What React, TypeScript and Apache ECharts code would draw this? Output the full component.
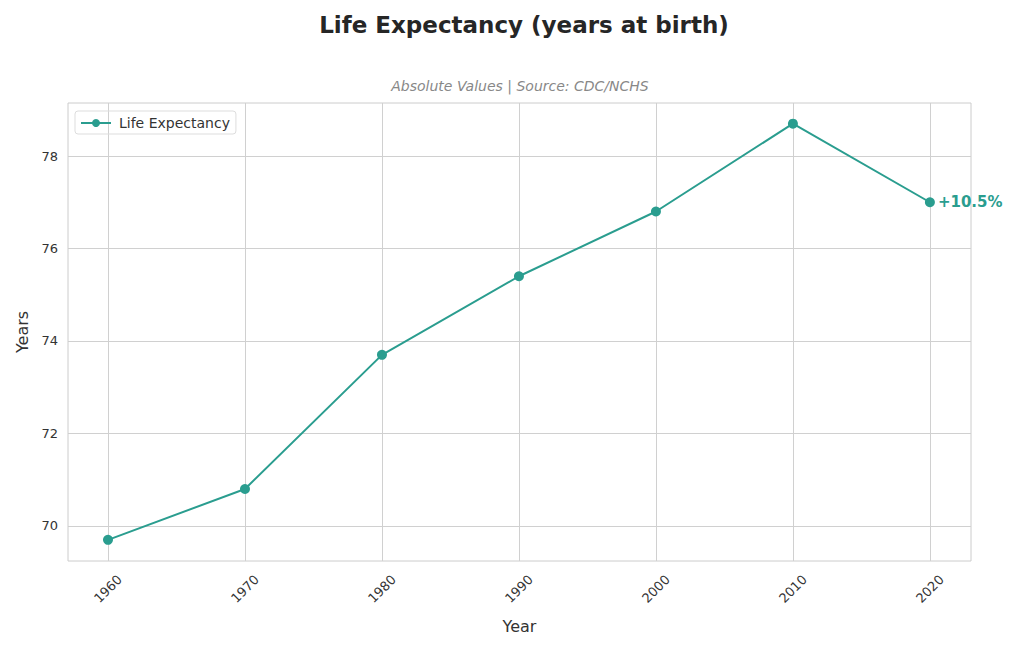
import React, { useEffect, useRef } from "react";
import * as echarts from "echarts";

const years = [1960, 1970, 1980, 1990, 2000, 2010, 2020];
const lifeExpectancy = [69.7, 70.8, 73.7, 75.4, 76.8, 78.7, 77.0];
const yTicks = [70, 72, 74, 76, 78];
const changeLabel = "+10.5%";

const TEAL = "#2a9d8f";
const FONT = "DejaVu Sans";

export default function App() {
  const ref = useRef<HTMLDivElement>(null);
  useEffect(() => {
    if (!ref.current) return;
    const chart = echarts.init(ref.current, null, { renderer: "svg" });
    const data = years.map((y, i) => [y, lifeExpectancy[i]]);
    chart.setOption({
      animation: false,
      backgroundColor: "#fff",
      textStyle: { fontFamily: FONT },
      title: [
        {
          text: "Life Expectancy (years at birth)",
          left: 519,
          textAlign: "center",
          top: 8,
          textStyle: { fontSize: 23, fontWeight: "bold", color: "#262626", fontFamily: FONT },
        },
        {
          text: "Absolute Values | Source: CDC/NCHS",
          left: 515,
          textAlign: "center",
          top: 74,
          textStyle: { fontSize: 14, fontStyle: "italic", fontWeight: "normal", color: "#888", fontFamily: FONT },
        },
      ],
      legend: {
        left: 75,
        top: 111,
        orient: "vertical",
        itemWidth: 30,
        itemHeight: 10,
        itemGap: 10,
        padding: [5, 6, 4, 5],
        borderColor: "#ddd",
        borderWidth: 1,
        borderRadius: 3,
        textStyle: { fontSize: 14, color: "#333", fontFamily: FONT, padding: [0, 0, 0, 3] },
        data: ["Life Expectancy"],
      },
      grid: {
        left: 68,
        right: 53,
        top: 103,
        bottom: 105,
        show: true,
        borderColor: "#cccccc",
        borderWidth: 1,
        containLabel: false,
      },
      xAxis: {
        type: "value",
        min: 1957.08,
        max: 2023.0,
        name: "Year",
        nameLocation: "middle",
        nameGap: 57,
        nameTextStyle: { fontSize: 16, color: "#333", fontFamily: FONT },
        axisLine: { show: false },
        axisTick: { show: false, customValues: years },
        axisLabel: {
          customValues: years,
          rotate: 45,
          fontSize: 13,
          color: "#333",
          margin: 28,
          align: "center",
          verticalAlign: "middle",
          formatter: (v: number) => String(v),
        },
        splitLine: { show: true, lineStyle: { color: "#d0d0d0", width: 1 } },
      },
      yAxis: {
        type: "value",
        min: 69.243,
        max: 79.146,
        name: "Years",
        nameLocation: "middle",
        nameGap: 38,
        nameTextStyle: { fontSize: 16, color: "#333", fontFamily: FONT },
        axisLine: { show: false },
        axisTick: { show: false, customValues: yTicks },
        axisLabel: {
          customValues: yTicks,
          fontSize: 13,
          color: "#333",
          margin: 10,
          formatter: (v: number) => String(v),
        },
        splitLine: { show: true, lineStyle: { color: "#d0d0d0", width: 1 } },
      },
      series: [
        {
          name: "Life Expectancy",
          type: "line",
          data,
          symbol: "circle",
          symbolSize: 10,
          lineStyle: { color: TEAL, width: 2 },
          itemStyle: { color: TEAL },
          label: {
            show: true,
            position: "right",
            distance: 3,
            fontSize: 15,
            fontWeight: "bold",
            color: TEAL,
            fontFamily: FONT,
            formatter: (p: any) => (p.dataIndex === years.length - 1 ? changeLabel : ""),
          },
        },
      ],
    });
    return () => chart.dispose();
  }, []);
  return <div ref={ref} style={{ position: "fixed", left: 0, top: 0, width: 1024, height: 666 }} />;
}
